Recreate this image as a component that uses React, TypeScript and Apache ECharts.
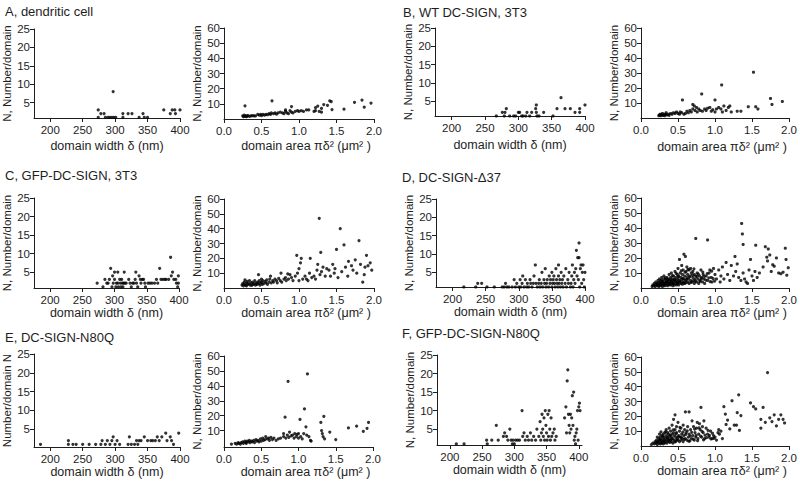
import React, { useEffect, useRef } from "react";
import * as echarts from "echarts";

// ---------- tick labels ----------
const widthTicks = [200, 250, 300, 350, 400];
const areaTicks = [0, 0.5, 1, 1.5, 2];
const nTicksWidth = [5, 10, 15, 20, 25];
const nTicksArea = [10, 20, 30, 40, 50, 60];

const panelTitles = [
  "A, dendritic cell",
  "B, WT DC-SIGN, 3T3",
  "C, GFP-DC-SIGN, 3T3",
  "D, DC-SIGN-\u039437",
  "E, DC-SIGN-N80Q",
  "F, GFP-DC-SIGN-N80Q",
];

// ---------- data: [domain width nm, N] and [domain area um2, N] ----------
const aWidth = [[274,3],[274,1],[278,2],[283,2],[285,1],[289,1],[292,1],[295,1],[297,8],[298,1],[301,1],[312,2],[312,1],[320,2],[326,2],[337,1],[343,2],[345,1],[350,1],[375,3],[385,2],[388,3],[392,3],[393,2],[400,3]];
const aArea = [[0.25,2],[0.26,1.5],[0.27,2.5],[0.28,1.8],[0.29,2],[0.3,1.5],[0.31,2],[0.32,2.2],[0.34,1.8],[0.36,2],[0.38,2.3],[0.4,2],[0.42,2],[0.45,3],[0.47,2.5],[0.49,3],[0.5,2.2],[0.52,3],[0.54,2.5],[0.56,3],[0.58,2.8],[0.6,3.5],[0.62,3],[0.63,4],[0.66,3.5],[0.68,4],[0.7,3.2],[0.72,4],[0.75,4.5],[0.78,4],[0.8,3.5],[0.82,5],[0.84,4],[0.86,3.5],[0.88,5.5],[0.9,4.5],[0.92,4],[0.95,5],[0.98,5.5],[1.0,5],[1.03,5.5],[1.06,5],[1.1,6],[1.13,6],[1.2,5],[1.22,5.5],[1.27,5],[1.3,4.5],[0.28,8.7],[0.64,12],[0.9,8.2],[0.82,6],[1.22,7.5],[1.25,8.5],[1.3,7],[1.33,9.5],[1.38,9],[1.41,12],[1.43,11.5],[1.44,6.2],[1.6,6.5],[1.74,11],[1.84,12.5],[1.87,7.8],[1.96,10.5]];
const bWidth = [[267,1],[276,2],[279,1],[280,2],[282,3],[287,1],[293,1],[296,1],[300,2],[302,2],[305,1],[307,1],[311,1],[313,2],[317,1],[320,2],[326,3],[327,4],[327,2],[328,1],[331,1],[338,2],[352,1],[358,3],[364,6],[370,3],[378,3],[385,2],[392,2],[392,3],[400,4]];
const bArea = [[0.24,1.5],[0.25,2],[0.26,2.5],[0.27,1.5],[0.28,2],[0.29,3],[0.3,1.8],[0.31,2.2],[0.32,1.5],[0.33,2.5],[0.34,3.5],[0.35,2],[0.37,2.5],[0.38,1.8],[0.4,3],[0.42,2.5],[0.44,3.5],[0.46,3],[0.48,4],[0.5,3],[0.52,2.5],[0.53,4],[0.55,3.5],[0.56,12],[0.58,2.5],[0.6,3],[0.62,4.5],[0.64,3.5],[0.66,5],[0.68,4],[0.7,9],[0.7,6],[0.72,8],[0.73,5],[0.75,7],[0.76,4],[0.78,6],[0.8,5],[0.82,16],[0.83,4.5],[0.86,6],[0.88,5],[0.9,6.5],[0.93,7],[0.95,4.5],[0.97,5.5],[1.0,12],[1.0,4],[1.02,6],[1.05,7],[1.08,6],[1.09,22],[1.1,4],[1.12,8],[1.15,5],[1.18,7],[1.2,8],[1.22,4],[1.3,4.5],[1.35,4.5],[1.45,7.5],[1.52,30.5],[1.55,7.5],[1.58,6],[1.75,13],[1.77,9],[1.91,11]];
const cWidth = [[273,2],[282,1],[285,3],[288,2],[290,2],[292,3],[294,6],[296,1],[297,4],[298,2],[300,5],[300,3],[302,1],[303,2],[305,5],[305,2],[306,1],[308,3],[309,2],[310,1],[311,3],[312,2],[313,1],[314,2],[315,5],[316,2],[318,2],[322,3],[324,2],[326,1],[328,2],[330,2],[332,3],[333,5],[334,2],[336,1],[338,4],[340,3],[341,2],[343,3],[345,3],[347,2],[348,1],[352,2],[355,2],[358,2],[362,2],[365,3],[367,2],[370,6],[372,3],[375,3],[378,3],[380,3],[384,3],[387,9],[388,4],[390,5],[392,3],[395,3],[396,2],[398,1],[399,4],[399,2]];
const cArea = [[0.24,2],[0.25,3],[0.26,1.5],[0.27,4],[0.27,2.5],[0.28,5.5],[0.29,2],[0.3,3.5],[0.3,1.5],[0.31,4.5],[0.32,2.5],[0.33,3],[0.34,5],[0.35,2],[0.36,3.5],[0.37,1.8],[0.38,4],[0.39,2.5],[0.4,3],[0.41,5],[0.42,2],[0.43,3.5],[0.44,2.5],[0.45,4],[0.46,9],[0.46,3],[0.47,5],[0.48,2],[0.49,3.5],[0.5,6],[0.5,4],[0.51,2.5],[0.52,5],[0.53,3],[0.55,4.5],[0.56,3.5],[0.57,5.5],[0.58,2.5],[0.6,4],[0.61,6],[0.62,8],[0.63,3.5],[0.65,5],[0.66,4],[0.68,6],[0.7,5],[0.71,3.5],[0.73,6.5],[0.75,5],[0.76,10],[0.77,4],[0.8,6],[0.82,7],[0.83,5],[0.85,9.5],[0.86,6],[0.88,9],[0.9,7],[0.92,5],[0.95,8],[0.97,22],[0.98,10],[1.0,5],[1.0,13],[1.02,17],[1.03,20],[1.05,6],[1.08,8],[1.1,6],[1.12,5],[1.14,10],[1.15,20],[1.17,7],[1.2,8],[1.22,6],[1.24,12],[1.25,16],[1.27,47],[1.28,9],[1.29,24],[1.3,11],[1.32,14],[1.35,8],[1.37,13],[1.4,12],[1.42,8],[1.45,16],[1.47,10],[1.48,13],[1.5,26],[1.52,7],[1.55,40],[1.57,11],[1.6,29],[1.62,14],[1.65,8],[1.66,18],[1.7,15],[1.72,12],[1.75,19],[1.77,10],[1.8,32],[1.82,16],[1.85,4],[1.87,9],[1.88,14],[1.9,22],[1.92,15],[1.95,17],[1.97,12]];
const dWidth = [[217,1],[235,1],[238,2],[244,2],[252,1],[263,1],[275,1],[278,1],[280,2],[282,1],[285,1],[290,1],[293,3],[295,1],[297,2],[300,1],[302,3],[303,1],[305,2],[306,4],[308,1],[310,3],[312,1],[313,2],[315,1],[317,3],[318,2],[320,1],[322,2],[323,4],[325,7],[326,2],[328,1],[330,2],[331,3],[332,1],[334,2],[335,5],[336,1],[338,3],[339,2],[340,6],[341,1],[342,2],[343,3],[345,1],[346,4],[347,2],[348,3],[350,1],[350,5],[351,2],[352,3],[353,4],[354,2],[355,1],[356,6],[357,3],[358,2],[359,1],[360,4],[360,7],[361,2],[362,3],[363,1],[364,5],[365,2],[366,3],[367,1],[368,4],[370,2],[371,6],[372,1],[374,3],[375,2],[376,5],[378,1],[379,2],[380,4],[381,7],[382,1],[383,3],[384,5],[385,2],[386,6],[387,11],[388,4],[389,9],[390,3],[391,13],[391,9],[392,1],[393,6],[394,7],[395,2],[396,5],[397,7],[398,3],[399,1],[400,5]];
const dArea = [[0.15,1],[0.16,2],[0.17,1.5],[0.18,3],[0.19,1],[0.2,2.5],[0.2,4],[0.21,1.5],[0.22,3],[0.22,2],[0.23,5],[0.24,1],[0.24,3.5],[0.25,2],[0.25,6],[0.26,4],[0.26,1.5],[0.27,3],[0.27,5],[0.28,2],[0.28,7],[0.29,4],[0.29,1],[0.3,3],[0.3,5.5],[0.31,2],[0.31,8],[0.32,4],[0.32,1.5],[0.33,6],[0.33,3],[0.34,2],[0.34,5],[0.35,7],[0.35,3.5],[0.36,1.5],[0.36,4.5],[0.37,6],[0.37,2.5],[0.38,9],[0.38,4],[0.39,3],[0.39,5.5],[0.4,2],[0.4,7],[0.41,4],[0.41,10],[0.42,3],[0.42,6],[0.43,1.5],[0.43,5],[0.44,8],[0.44,3.5],[0.45,2],[0.45,6],[0.46,4.5],[0.46,11],[0.47,3],[0.47,7],[0.48,5],[0.48,2],[0.49,9],[0.49,4],[0.5,6],[0.5,3],[0.5,13],[0.51,2],[0.51,8],[0.52,5],[0.52,19],[0.53,4],[0.53,10],[0.54,3],[0.54,7],[0.55,15],[0.55,5.5],[0.56,2.5],[0.56,9],[0.57,4],[0.57,12],[0.58,22.5],[0.58,6],[0.59,3],[0.59,8],[0.6,21],[0.6,5],[0.61,11],[0.61,3.5],[0.62,7],[0.62,14],[0.63,4],[0.63,9],[0.64,6],[0.65,12],[0.65,3],[0.66,8],[0.67,5],[0.67,13],[0.68,10],[0.69,4],[0.7,7],[0.7,11],[0.71,5],[0.72,9],[0.72,3],[0.73,6],[0.74,33],[0.74,8],[0.75,4],[0.76,10],[0.77,6],[0.78,3],[0.79,8],[0.8,5],[0.81,12],[0.82,7],[0.83,4],[0.84,9],[0.85,6],[0.86,3],[0.88,8],[0.9,32],[0.9,5],[0.92,10],[0.93,12],[0.95,7],[0.96,4],[0.98,13],[1.0,9],[1.02,6],[1.05,12],[1.07,4],[1.08,8],[1.1,14],[1.12,6],[1.15,17],[1.17,9],[1.2,5],[1.22,15],[1.25,8],[1.27,21],[1.28,11],[1.3,16],[1.32,7],[1.35,5],[1.36,43],[1.37,36],[1.38,29],[1.38,10],[1.4,6],[1.42,4],[1.44,3],[1.46,12],[1.48,19],[1.5,8],[1.52,5],[1.54,11],[1.55,28.5],[1.57,7],[1.6,10],[1.65,14],[1.68,27.5],[1.7,20.5],[1.71,18],[1.72,26],[1.74,22],[1.76,11],[1.78,15.5],[1.8,14.5],[1.83,20],[1.86,10],[1.89,9.5],[1.92,10.5],[1.95,26.5],[1.96,19],[1.97,8.5],[1.99,13.5],
  [0.235,2.2],[0.265,3.3],[0.285,4.6],[0.305,2.6],[0.325,6.8],[0.345,3.8],[0.365,5.2],[0.385,2.2],[0.405,4.8],[0.425,8.2],[0.435,2.7],[0.455,5.3],[0.475,9.8],[0.495,3.2],[0.505,7.4],[0.525,4.2],[0.545,11.5],[0.565,6.4],[0.575,3.4],[0.595,10.5],[0.615,5.6],[0.635,12.4],[0.655,7.2],[0.675,3.8],[0.695,8.6],[0.715,12.8],[0.735,4.6],[0.755,7.6],[0.775,9.2],[0.795,4.4],[0.815,6.2],[0.835,10.6],[0.855,7.8],[0.875,5.2],[0.895,9.6],[0.915,6.8],[0.935,4.2],[0.955,11.2],[0.975,6.2],[0.995,4.6]];
const eWidth = [[185,1],[228,2],[228,1],[235,1],[240,1],[250,1],[260,1],[270,1],[278,1],[280,2],[285,1],[288,2],[292,1],[295,2],[297,3],[300,1],[303,2],[307,1],[320,1],[322,3],[325,1],[330,1],[333,2],[335,1],[337,2],[340,2],[345,3],[350,2],[355,2],[358,2],[362,2],[365,3],[368,2],[372,3],[378,4],[380,2],[385,3],[387,2],[390,1],[398,4]];
const eArea = [[0.1,1],[0.15,1.5],[0.17,1],[0.19,2],[0.2,1.5],[0.22,1],[0.23,2],[0.25,2.5],[0.26,1.5],[0.28,3],[0.29,2],[0.3,1.5],[0.31,3],[0.33,2.5],[0.34,3.5],[0.35,2],[0.37,3],[0.38,2.5],[0.4,3.5],[0.41,2],[0.43,4],[0.44,3],[0.46,3.5],[0.47,2.5],[0.49,4.5],[0.5,3],[0.52,5],[0.53,3.5],[0.55,4],[0.56,6],[0.58,4.5],[0.6,5],[0.61,3.5],[0.63,5.5],[0.65,4],[0.67,5],[0.7,3.5],[0.73,4.5],[0.76,5],[0.8,6],[0.8,8],[0.82,19],[0.83,5],[0.85,7],[0.86,43],[0.87,5.5],[0.88,9],[0.9,6.5],[0.92,7],[0.94,5],[0.95,8],[0.97,6],[0.98,7.5],[1.0,8],[1.0,5],[1.02,17.5],[1.03,6],[1.05,4.5],[1.07,8],[1.08,24.5],[1.1,12.5],[1.11,7],[1.12,48],[1.14,6],[1.16,3.5],[1.17,3],[1.3,15.5],[1.31,10],[1.32,8],[1.33,6],[1.34,19.5],[1.35,4.5],[1.42,9],[1.5,4],[1.67,11.8],[1.78,13],[1.87,9.5],[1.92,11.5],[1.94,15.5]];
const fWidth = [[210,1],[222,1],[257,2],[258,1],[265,2],[272,6],[275,2],[283,3],[285,4],[288,3],[290,2],[293,5],[295,2],[297,1],[298,2],[300,1],[302,2],[305,2],[308,2],[312,10],[313,3],[315,4],[317,2],[320,3],[322,2],[325,4],[327,2],[330,3],[333,2],[335,5],[338,3],[340,7],[341,2],[342,4],[343,9],[344,5],[345,3],[346,8],[347,2],[348,10],[349,6],[350,4],[351,2],[352,9],[353,3],[354,10],[355,5],[356,2],[357,8],[358,3],[360,4],[362,5],[363,2],[365,3],[378,8],[380,11],[381,4],[382,18],[383,21],[384,9],[385,6],[386,4],[387,9],[388,5],[389,8],[390,14],[391,6],[392,15],[393,2],[394,3],[395,1],[396,4],[397,5],[398,10],[399,2],[400,11],[401,12],[402,10]];
const fArea = [[0.14,1],[0.16,2],[0.18,1.5],[0.19,3],[0.2,2],[0.21,4],[0.22,1],[0.22,6],[0.23,3],[0.24,2],[0.24,5],[0.25,8],[0.25,3.5],[0.26,1.5],[0.26,6],[0.27,4],[0.27,9.5],[0.28,2.5],[0.28,7],[0.29,5],[0.29,3],[0.3,8],[0.3,1.5],[0.31,6],[0.31,4],[0.32,2],[0.32,9],[0.33,5],[0.33,3],[0.34,7],[0.34,11],[0.35,4],[0.35,2],[0.36,6],[0.36,9],[0.37,3],[0.37,8],[0.38,5],[0.38,12],[0.39,2.5],[0.39,7],[0.4,4],[0.4,10],[0.41,6],[0.41,3],[0.42,8],[0.42,14],[0.43,5],[0.43,2],[0.44,9],[0.44,18],[0.45,4],[0.45,7],[0.46,21],[0.46,11],[0.47,3],[0.47,6],[0.48,9],[0.48,13],[0.49,5],[0.5,4],[0.5,16],[0.51,7],[0.52,3],[0.52,10],[0.53,6],[0.54,12],[0.54,4],[0.55,8],[0.56,5],[0.57,14],[0.57,3],[0.58,7],[0.59,11],[0.6,23],[0.6,5],[0.61,9],[0.62,4],[0.63,13],[0.64,6],[0.65,23],[0.65,8],[0.66,3.5],[0.67,11],[0.68,5],[0.69,17],[0.7,7],[0.71,13],[0.72,4],[0.73,9],[0.74,6],[0.75,12],[0.76,16],[0.77,5],[0.78,8],[0.79,15],[0.8,11],[0.81,26],[0.82,6],[0.83,13],[0.84,9],[0.85,17],[0.86,5],[0.88,12],[0.9,8],[0.92,6],[0.94,10],[0.96,5],[0.98,7],[1.0,6],[1.02,4],[1.04,9],[1.05,11],[1.06,8],[1.08,10],[1.1,5],[1.12,26.5],[1.14,21.5],[1.15,14.5],[1.17,17.5],[1.2,11.5],[1.23,30.5],[1.26,14],[1.29,14],[1.3,22.5],[1.32,34.5],[1.33,10.5],[1.35,20.5],[1.48,29],[1.52,26.5],[1.55,25],[1.62,18],[1.62,12],[1.65,26],[1.68,16],[1.71,49.5],[1.74,19],[1.77,16.5],[1.8,21],[1.83,13.5],[1.86,18],[1.89,21],[1.92,18],[1.94,15.5],
  [0.215,2.6],[0.255,4.4],[0.275,1.8],[0.295,6.6],[0.315,3.2],[0.335,9.6],[0.355,5.4],[0.375,3.8],[0.395,7.4],[0.415,4.6],[0.435,10.8],[0.455,2.8],[0.475,8.2],[0.485,4.2],[0.505,6.2],[0.525,12.6],[0.545,5.8],[0.565,9.4],[0.585,4.4],[0.605,7.8],[0.625,10.2],[0.645,3.2],[0.665,6.8],[0.685,9.2],[0.705,4.6],[0.725,11.4],[0.745,7.2],[0.765,3.6],[0.785,12.2],[0.805,6.6],[0.825,9.8],[0.845,4.2],[0.865,7.4],[0.885,5.6],[0.905,10.6],[0.925,7.2],[0.945,4.8],[0.965,8.6],[0.985,5.2]];

const FONT = "'Liberation Sans', Arial, Helvetica, sans-serif";
const INK = "#1e1e1e";

type Panel = {
  data: number[][];
  kind: "w" | "a";
  grid: { left: number; top: number; width: number; height: number };
  xMin?: number;
  xMax?: number;
  yMin: number;
  yName: string;
  xGap: number;
};

const Y_NAME = "N, Number/domain";

const panels: Panel[] = [
  { data: aWidth, kind: "w", grid: { left: 33, top: 29, width: 147, height: 89 }, xMin: 175, xMax: 400, yMin: 0.8, yName: Y_NAME, xGap: 21 },
  { data: aArea, kind: "a", grid: { left: 224, top: 28, width: 150, height: 91 }, yMin: 0, yName: Y_NAME, xGap: 20 },
  { data: bWidth, kind: "w", grid: { left: 435, top: 28, width: 150, height: 88 }, xMin: 175, xMax: 400, yMin: 1.0, yName: Y_NAME, xGap: 22 },
  { data: bArea, kind: "a", grid: { left: 641, top: 28, width: 149, height: 90 }, yMin: 0, yName: Y_NAME, xGap: 22 },
  { data: cWidth, kind: "w", grid: { left: 31, top: 198, width: 148, height: 90 }, xMin: 175, xMax: 400, yMin: 0.7, yName: Y_NAME, xGap: 18 },
  { data: cArea, kind: "a", grid: { left: 224, top: 199, width: 150, height: 89 }, yMin: 0, yName: Y_NAME, xGap: 18 },
  { data: dWidth, kind: "w", grid: { left: 436, top: 199, width: 149, height: 88 }, xMin: 175, xMax: 400, yMin: 1.0, yName: Y_NAME, xGap: 18 },
  { data: dArea, kind: "a", grid: { left: 641, top: 198, width: 149, height: 90 }, yMin: 0, yName: Y_NAME, xGap: 18 },
  { data: eWidth, kind: "w", grid: { left: 32, top: 354, width: 148, height: 93 }, xMin: 175, xMax: 400, yMin: 0.3, yName: "Number/domain N", xGap: 18 },
  { data: eArea, kind: "a", grid: { left: 224, top: 356, width: 149, height: 91 }, yMin: -1, yName: Y_NAME, xGap: 18 },
  { data: fWidth, kind: "w", grid: { left: 437, top: 355, width: 145, height: 90 }, xMin: 180, xMax: 405, yMin: 0.7, yName: Y_NAME, xGap: 18 },
  { data: fArea, kind: "a", grid: { left: 641, top: 357, width: 149, height: 89 }, yMin: 0, yName: Y_NAME, xGap: 18 },
];

const titlePos = [
  [5, 11],
  [403, 12],
  [5, 175],
  [402, 177],
  [5, 337],
  [402, 333],
];

function buildOption() {
  const grid: any[] = [];
  const xAxis: any[] = [];
  const yAxis: any[] = [];
  const series: any[] = [];
  const lineStyle = { color: INK, width: 1 };

  panels.forEach((p, i) => {
    grid.push({ ...p.grid, containLabel: false });
    const isW = p.kind === "w";
    const xt = isW ? widthTicks : areaTicks;
    xAxis.push({
      gridIndex: i,
      type: "value",
      min: isW ? p.xMin : 0,
      max: isW ? p.xMax : 2,
      splitLine: { show: false },
      axisLine: { show: true, onZero: false, lineStyle },
      axisTick: { show: true, length: 4, inside: false, lineStyle, customValues: xt },
      axisLabel: {
        customValues: xt,
        fontSize: 11.5,
        color: INK,
        fontFamily: FONT,
        margin: 6,
        formatter: (v: number) => (isW ? String(v) : v.toFixed(1)),
      },
      name: isW ? "domain width \u03b4 (nm)" : "domain area \u03c0\u03b4\u00b2 (\u03bcm\u00b2 )",
      nameLocation: "middle",
      nameGap: p.xGap,
      nameTextStyle: {
        fontSize: 12.5,
        color: INK,
        fontFamily: FONT,
        verticalAlign: "top",
        padding: isW ? [0, 0, 0, 0] : [0, 0, 0, 14],
      },
    });
    const yt = isW ? nTicksWidth : nTicksArea;
    yAxis.push({
      gridIndex: i,
      type: "value",
      min: p.yMin,
      max: isW ? 25 : 60,
      splitLine: { show: false },
      axisLine: { show: true, onZero: false, lineStyle },
      axisTick: { show: true, length: 4, lineStyle, customValues: yt },
      axisLabel: { customValues: yt, fontSize: 11.5, color: INK, fontFamily: FONT, margin: 4 },
      name: p.yName,
      nameLocation: "middle",
      nameGap: 21,
      nameTextStyle: { fontSize: 11.5, color: INK, fontFamily: FONT },
    });
    series.push({
      type: "scatter",
      xAxisIndex: i,
      yAxisIndex: i,
      data: p.data,
      symbol: "circle",
      symbolSize: 3.2,
      itemStyle: { color: "#000" },
      clip: false,
      silent: true,
    });
  });

  const graphic = panelTitles.map((t, i) => ({
    type: "text",
    x: titlePos[i][0],
    y: titlePos[i][1],
    style: {
      text: t,
      fontSize: 13,
      fontFamily: FONT,
      fill: INK,
      verticalAlign: "middle",
    },
  }));

  return {
    animation: false,
    backgroundColor: "#ffffff",
    grid,
    xAxis,
    yAxis,
    series,
    graphic,
  };
}

export default function App() {
  const ref = useRef<HTMLDivElement>(null);
  useEffect(() => {
    if (!ref.current) return;
    const chart = echarts.init(ref.current, undefined, { renderer: "svg" });
    chart.setOption(buildOption() as any);
    return () => chart.dispose();
  }, []);
  return (
    <div
      ref={ref}
      style={{ position: "fixed", left: 0, top: 0, width: 800, height: 481, background: "#fff" }}
    />
  );
}
